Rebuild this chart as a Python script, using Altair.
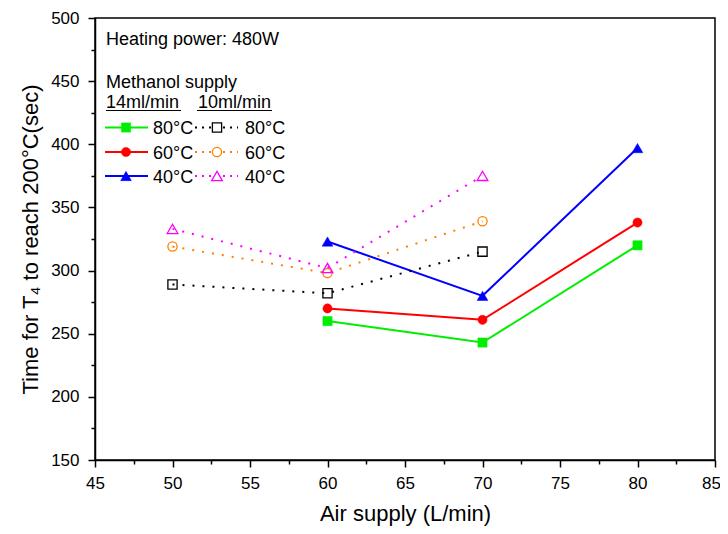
import altair as alt
import pandas as pd

# ---- data ----
air_14 = [60, 70, 80]
time_14_80 = [260, 243, 320]
time_14_60 = [270, 261, 338]
time_14_40 = [323, 280, 397]

air_10 = [50, 60, 70]
time_10_80 = [289, 282, 315]
time_10_60 = [319, 298, 339]
time_10_40 = [333, 302, 375]

temp_labels = ["80°C", "60°C", "40°C"]
x_ticks = [45 + 2.5 * i for i in range(17)]
y_ticks = [150 + 25 * i for i in range(15)]

FONT = "Liberation Sans"

# series: (x, y, colour, shape, filled)
series_14 = [
    (air_14, time_14_80, "#00ee00", "square", True),
    (air_14, time_14_60, "#ff0000", "circle", True),
    (air_14, time_14_40, "#0000ff", "triangle-up", True),
]
series_10 = [
    (air_10, time_10_80, "#000000", "square", False),
    (air_10, time_10_60, "#ff8000", "circle", False),
    (air_10, time_10_40, "#ff00ff", "triangle-up", False),
]

xscale = alt.Scale(domain=[45, 85], nice=False, zero=False)
yscale = alt.Scale(domain=[150, 500], nice=False, zero=False)

xaxis = alt.Axis(
    values=x_ticks,
    labelExpr="datum.value % 5 === 0 ? datum.label : ''",
    tickSize={"condition": {"test": "datum.value % 5 === 0", "value": 7}, "value": 4},
    labelOffset={"condition": {"test": "datum.value === 85", "value": -4}, "value": 0},
    grid=False, labelFontSize=17, titleFontSize=22, labelPadding=8,
    titlePadding=12, labelFlush=False,
)
yaxis = alt.Axis(
    values=y_ticks,
    labelExpr="datum.value % 50 === 0 ? datum.label : ''",
    tickSize={"condition": {"test": "datum.value % 50 === 0", "value": 7}, "value": 4},
    grid=False, labelFontSize=17, titleFontSize=22, labelPadding=9,
    titlePadding=8,
)

MSIZE = {"square": 85, "circle": 85, "triangle-up": 115}

layers = []
for group, dotted in ((series_14, False), (series_10, True)):
    for xs, ys, col, shape, filled in group:
        df = pd.DataFrame({"air": xs, "time": ys})
        enc = dict(
            x=alt.X("air:Q", scale=xscale, axis=xaxis, title="Air supply (L/min)"),
            y=alt.Y("time:Q", scale=yscale, axis=yaxis,
                    title="Time for T₄ to reach 200°C(sec)"),
        )
        if dotted:
            line = alt.Chart(df).mark_line(color=col, strokeWidth=2, strokeDash=[2, 8])
        else:
            line = alt.Chart(df).mark_line(color=col, strokeWidth=2)
        layers.append(line.encode(**enc))
        if filled:
            pt = alt.Chart(df).mark_point(shape=shape, filled=True, fill=col, stroke=col,
                                          strokeWidth=0.5, size=MSIZE[shape], opacity=1)
        else:
            pt = alt.Chart(df).mark_point(shape=shape, filled=False, stroke=col,
                                          strokeWidth=1.3, size=MSIZE[shape], opacity=1)
        layers.append(pt.encode(**enc))

# ---- in-plot legend (pixel layout inside plot area) ----
one = pd.DataFrame({"k": [0]})


def txt(s, x, y, size=18):
    return alt.Chart(one).mark_text(text=s, align="left", baseline="alphabetic",
                                    font=FONT, fontSize=size, color="black").encode(
        x=alt.value(x), y=alt.value(y))


def rule(x1, x2, y, col, dash=None, w=2):
    kw = dict(color=col, strokeWidth=w)
    if dash:
        kw["strokeDash"] = dash
    return alt.Chart(one).mark_rule(**kw).encode(x=alt.value(x1), x2=alt.value(x2),
                                                  y=alt.value(y))


layers.append(txt("Heating power: 480W", 11, 27))
layers.append(txt("Methanol supply", 11, 70))
layers.append(txt("14ml/min", 11, 90))
layers.append(txt("10ml/min", 103, 90))
layers.append(rule(11, 86, 92.5, "black", w=1.2))
layers.append(rule(102, 177, 92.5, "black", w=1.2))

row_y = [109.5, 134, 158]
for i, ((_, _, c14, sh14, _), (_, _, c10, sh10, _)) in enumerate(zip(series_14, series_10)):
    yy = row_y[i]
    layers.append(rule(10, 53, yy, c14))
    layers.append(alt.Chart(one).mark_point(shape=sh14, filled=True, fill=c14, stroke=c14,
                                            strokeWidth=0.5, size=MSIZE[sh14], opacity=1)
                  .encode(x=alt.value(31), y=alt.value(yy)))
    layers.append(txt(temp_labels[i], 58, yy + 6.5))
    layers.append(rule(100, 143, yy, c10, dash=[2, 5]))
    layers.append(alt.Chart(one).mark_point(shape=sh10, filled=True, fill="white", stroke=c10,
                                            strokeWidth=1.3, size=MSIZE[sh10], opacity=1)
                  .encode(x=alt.value(122), y=alt.value(yy)))
    layers.append(txt(temp_labels[i], 150, yy + 6.5))

chart = alt.layer(*layers).properties(
    width=620, height=442,
    autosize=alt.AutoSizeParams(type="none"),
    padding={"left": 87, "top": 10, "right": 5, "bottom": 66},
).configure_view(
    stroke="black", strokeWidth=1.5,
).configure_axis(
    domainColor="black", domainWidth=1.5, tickColor="black", tickWidth=1.5,
    labelColor="black", titleColor="black", labelFont=FONT, titleFont=FONT,
    titleFontWeight="normal",
)

chart.save("out.html", embed_options={"renderer": "svg", "actions": False})
